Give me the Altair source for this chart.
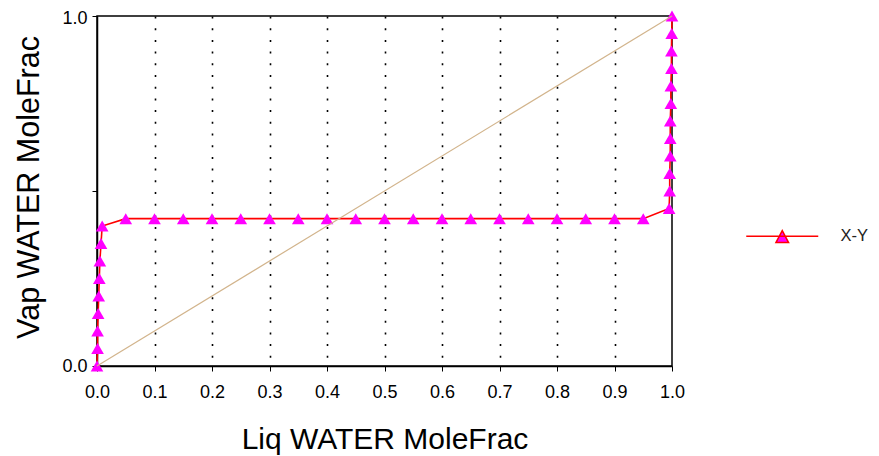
import altair as alt
import pandas as pd

# ---- data ----
liq_x = [0.0, 0.001, 0.001, 0.002, 0.003, 0.004, 0.005, 0.007, 0.009,
         0.05, 0.10, 0.15, 0.20, 0.25, 0.30, 0.35, 0.40, 0.45, 0.50,
         0.55, 0.60, 0.65, 0.70, 0.75, 0.80, 0.85, 0.90, 0.95,
         0.995, 0.996, 0.996, 0.997, 0.997, 0.997, 0.998, 0.998, 0.999,
         0.999, 0.9995, 1.0]
vap_y = [0.0, 0.05, 0.10, 0.15, 0.20, 0.25, 0.30, 0.35, 0.40,
         0.421, 0.421, 0.421, 0.421, 0.421, 0.421, 0.421, 0.421, 0.421, 0.421,
         0.421, 0.421, 0.421, 0.421, 0.421, 0.421, 0.421, 0.421, 0.421,
         0.45, 0.50, 0.55, 0.60, 0.65, 0.70, 0.75, 0.80, 0.85,
         0.90, 0.95, 1.0]
series_name = "X-Y"

diag_x = [0.0, 1.0]
diag_y = [0.0, 1.0]

x_ticks = [0.0, 0.05, 0.1, 0.15, 0.2, 0.25, 0.3, 0.35, 0.4, 0.45, 0.5,
           0.55, 0.6, 0.65, 0.7, 0.75, 0.8, 0.85, 0.9, 0.95, 1.0]
y_ticks = [0.0, 0.5, 1.0]

x_title = "Liq WATER MoleFrac"
y_title = "Vap WATER MoleFrac"

FONT = "Liberation Sans"

df = pd.DataFrame({"x": liq_x, "y": vap_y, "series": series_name})
df_diag = pd.DataFrame({"x": diag_x, "y": diag_y})

xscale = alt.Scale(domain=[0, 1], nice=False, zero=False)
yscale = alt.Scale(domain=[0, 1], nice=False, zero=False)

x_axis = alt.Axis(
    values=x_ticks,
    title=x_title,
    labelExpr="round(datum.value*20) % 2 == 0 ? format(datum.value, '.1f') : ''",
    labelFont=FONT, labelFontSize=18, labelColor="#000000",
    labelPadding=12, labelBaseline="top",
    tickSize=5, tickColor="#000000", tickWidth=1,
    domainColor="#000000", domainWidth=1.5,
    grid=True, gridColor="#000000", gridWidth=1.6, gridDash=[2, 9.7],
    gridOpacity={"condition": {"test": "round(datum.value*20) % 2 == 0 && datum.value > 0.01 && datum.value < 0.99", "value": 1}, "value": 0},
    titleFont=FONT, titleFontSize=30, titleFontWeight="normal", titleColor="#000000",
    titleY=82, titleBaseline="alphabetic",
    labelOverlap=False, labelFlush=False,
)
y_axis = alt.Axis(
    values=y_ticks,
    title=y_title,
    labelExpr="datum.value == 0.5 ? '' : format(datum.value, '.1f')",
    labelFont=FONT, labelFontSize=18, labelColor="#000000",
    labelPadding=5,
    labelOffset={"condition": {"test": "datum.value > 0.99", "value": 2.5}, "value": 0},
    tickSize=5, tickColor="#000000", tickWidth=1,
    domainColor="#000000", domainWidth=1.5,
    grid=False,
    titleFont=FONT, titleFontSize=30.5, titleFontWeight="normal", titleColor="#000000",
    titleX=-59, titleY=171, titleAngle=-90, titleBaseline="alphabetic",
    labelOverlap=False, labelFlush=False,
)

line = alt.Chart(df).mark_line(strokeWidth=1.6).encode(
    x=alt.X("x:Q", scale=xscale, axis=x_axis),
    y=alt.Y("y:Q", scale=yscale, axis=y_axis),
    order=alt.Order("idx:Q"),
    stroke=alt.Stroke(
        "series:N",
        scale=alt.Scale(domain=[series_name], range=["#FF0000"]),
        legend=alt.Legend(
            title=None, orient="none", legendX=677, legendY=212,
            symbolType="M-6,0L6,0M0,-0.95L1.05,1.05L-1.05,1.05Z",
            symbolSize=144, symbolStrokeWidth=1.5,
            symbolFillColor="#FF00FF",
            labelFont=FONT, labelFontSize=16.5, labelColor="#222222",
            labelOffset=50, padding=0,
        ),
    ),
).transform_window(idx="row_number()")

points = alt.Chart(df).mark_point(
    shape="triangle-up", filled=True, fill="#FF00FF", stroke=None,
    size=160, opacity=1,
).encode(
    x=alt.X("x:Q", scale=xscale),
    y=alt.Y("y:Q", scale=yscale),
)

diag = alt.Chart(df_diag).mark_line(color="#D2B48C", strokeWidth=1.2).encode(
    x=alt.X("x:Q", scale=xscale),
    y=alt.Y("y:Q", scale=yscale),
)

chart = alt.layer(line, points, diag).properties(
    width=575, height=350,
    autosize=alt.AutoSizeParams(type="none"),
    padding={"left": 89, "top": 8, "right": 199, "bottom": 90},
    background="#FFFFFF",
).configure_view(
    stroke="#000000", strokeWidth=1.5,
)

chart.save("out.html", embed_options={"renderer": "svg", "actions": False})
